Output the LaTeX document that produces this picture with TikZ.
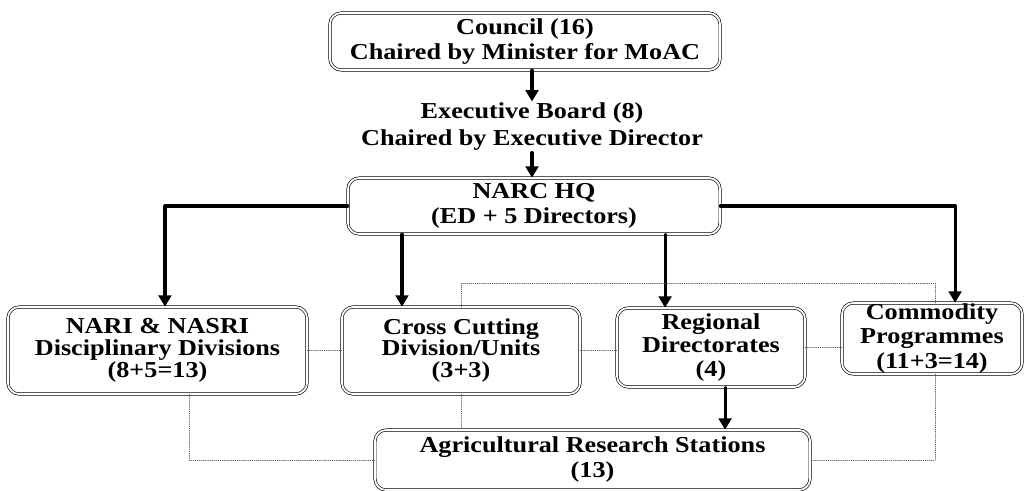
\documentclass[tikz,border=0pt]{standalone}
\usepackage{fontspec}
\setmainfont{Liberation Serif}[FakeStretch=1.15]
\usetikzlibrary{arrows.meta}

\begin{document}
\begin{tikzpicture}[x=0.025cm, y=-0.025cm, line cap=round, line join=round,
    box/.style={draw, double, line width=0.45pt, double distance=1.3pt, rounded corners=8pt,
      fill=white, align=center, inner sep=0pt, font=\bfseries\fontsize{16.2}{17.8}\selectfont},
    arr/.style={line width=2.2pt, -{Triangle[length=8pt, width=9pt]}},
    link/.style={densely dotted, line width=0.5pt, black!60}]
    \useasboundingbox (0,0) rectangle (1024,491);

    % Nodes
    \node[box, minimum width=9.75cm, minimum height=1.425cm] (council) at (525,41.5)
      {Council (16)\\Chaired by Minister for MoAC};
    \node[align=center, inner sep=1pt, font=\bfseries\fontsize{16.2}{19.2}\selectfont] (board) at (532,127)
      {Executive Board (8)\\Chaired by Executive Director};
    \node[box, minimum width=9.3cm, minimum height=1.4cm] (hq) at (534,206)
      {NARC HQ\\(ED + 5 Directors)};
    \node[box, minimum width=7.475cm, minimum height=2.175cm, font=\bfseries\fontsize{16.2}{15.6}\selectfont] (nari) at (157.5,350.5)
      {NARI \& NASRI\\Disciplinary Divisions\\(8+5=13)};
    \node[box, minimum width=5.95cm, minimum height=2.175cm, font=\bfseries\fontsize{16.2}{15.6}\selectfont] (cross) at (461,350.5)
      {Cross Cutting\\Division/Units\\(3+3)};
    \node[box, minimum width=4.7cm, minimum height=1.975cm, font=\bfseries\fontsize{16.2}{17}\selectfont] (reg) at (711,347.5)
      {Regional\\Directorates\\(4)};
    \node[box, minimum width=4.5cm, minimum height=1.775cm, font=\bfseries\fontsize{16.2}{17.5}\selectfont] (comm) at (932,338.5)
      {Commodity\\Programmes\\(11+3=14)};
    \node[box, minimum width=10.875cm, minimum height=1.5cm] (ars) at (592.5,460)
      {Agricultural Research Stations\\(13)};

    \coordinate (hqL) at ([xshift=-93.9pt]hq.south);
    \coordinate (hqR) at ([xshift=93.2pt]hq.south);
    \coordinate (nariN) at ([xshift=5.3pt]nari.north);
    \coordinate (commN) at ([xshift=16.4pt]comm.north);
    \coordinate (regS) at ([xshift=10pt]reg.south);
    \coordinate (nariS) at ([xshift=22.4pt]nari.south);
    \coordinate (loop) at (935,283);

    % Connections
    \draw[arr] (board.north |- council.south) -- (board.north);
    \draw[arr] (board.south) -- (board.south |- hq.north);
    \draw[arr] (hq.west) -| (nariN);
    \draw[arr] (hq.east) -| (commN);
    \draw[arr] (hqL) -- (hqL |- cross.north);
    \draw[arr] (hqR) -- (hqR |- reg.north);
    \draw[arr] (regS) -- (regS |- ars.north);

    % Dotted links
    \draw[link] (nari.east) -- (cross.west);
    \draw[link] (cross.east) -- (cross.east -| reg.west);
    \draw[link] (reg.east) -- (reg.east -| comm.west);
    \draw[link] (nariS) |- (ars.west);
    \draw[link] (cross.south) -- (cross.south |- ars.north);
    \draw[link] (cross.north) |- (loop) -- (loop |- comm.north);
    \draw[link] (loop |- comm.south) |- (ars.east);
  \end{tikzpicture}
\end{document}
